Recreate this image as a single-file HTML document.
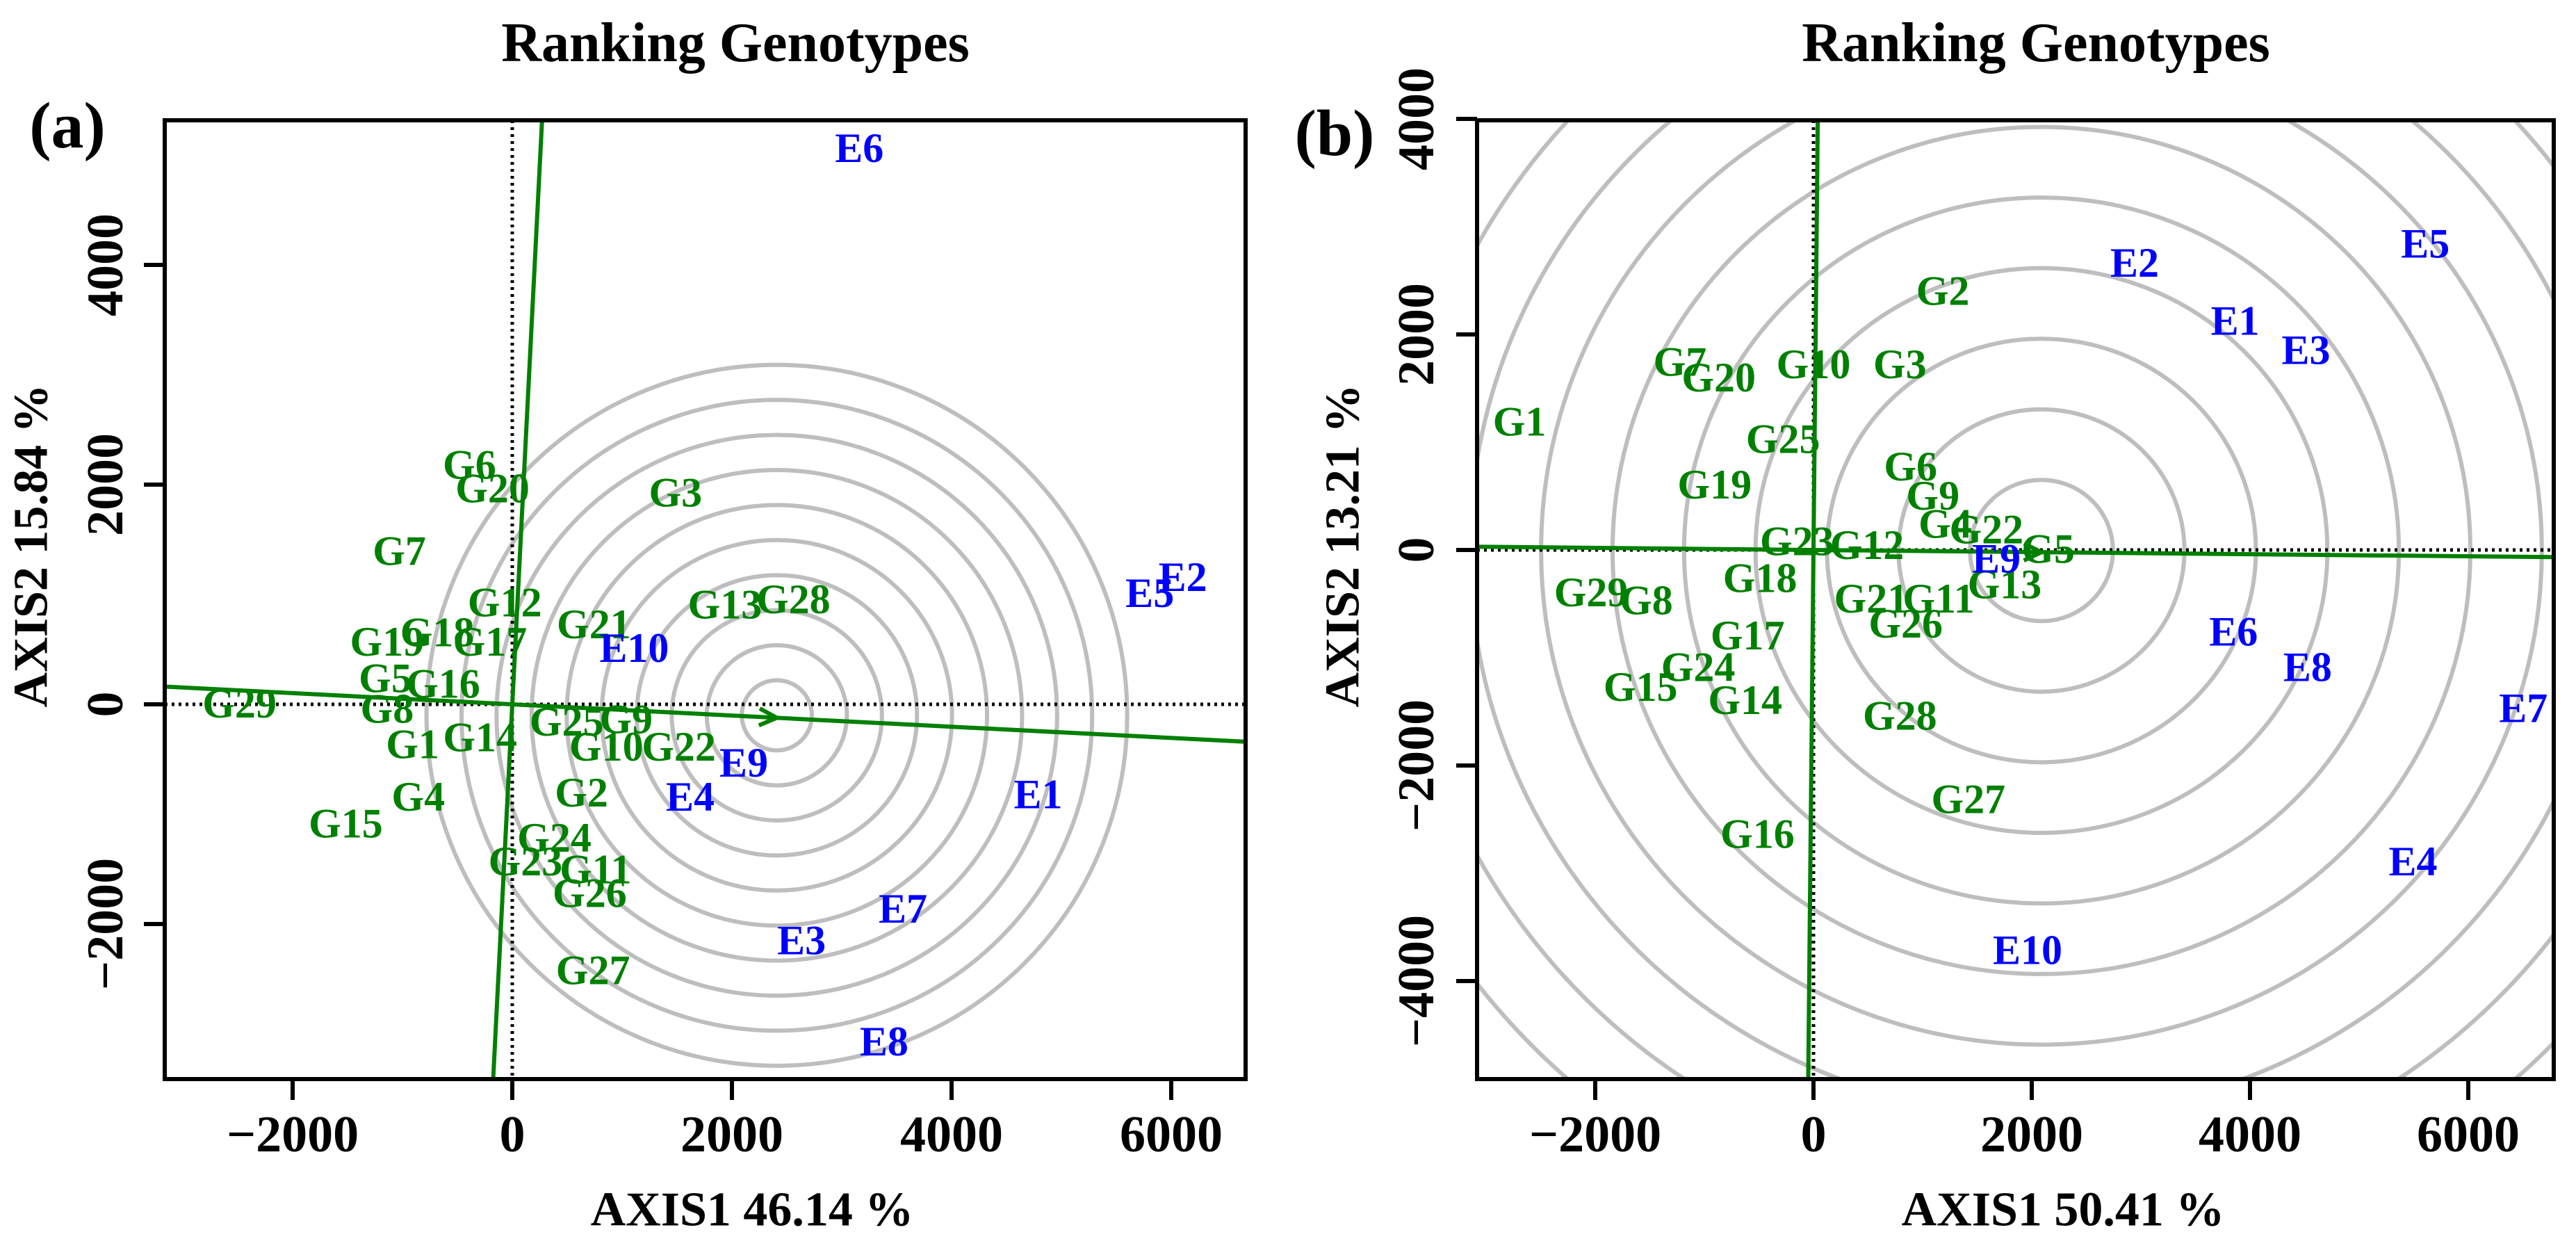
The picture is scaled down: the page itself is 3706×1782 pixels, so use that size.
<!DOCTYPE html>
<html><head><meta charset="utf-8"><style>
html,body{margin:0;padding:0;background:#fff;width:3706px;height:1782px;overflow:hidden}
svg{display:block}
text{font-family:"Liberation Serif",serif;font-weight:bold}
</style></head><body>
<svg id="fig" width="3706" height="1782" viewBox="0 0 3706 1782" xmlns="http://www.w3.org/2000/svg">
<defs>
<clipPath id="clipA"><rect x="237" y="173" width="1555" height="1379"/></clipPath>
<clipPath id="clipB"><rect x="2125" y="173" width="1549" height="1379"/></clipPath>
</defs>
<g id="panelA"></g>
<g id="panelB"></g>
</svg>
<script>
// ---- Panel (a) data ----
const genoNamesA = ["G6","G20","G3","G7","G12","G13","G28","G21","G18","G19","G17","G5","G16","G29","G8","G25","G9","G1","G14","G10","G22","G2","G4","G15","G24","G23","G11","G26","G27"];
const genoXA = [-390,-180,1486,-1028,-68,1936,2559,743,-683,-1140,-203,-1155,-630,-2484,-1140,495,1036,-908,-293,856,1516,630,-856,-1516,383,120,758,705,735];
const genoYA = [2186,1970,1934,1402,935,913,963,733,661,575,575,244,194,14,-36,-151,-129,-359,-295,-381,-381,-798,-834,-1079,-1208,-1424,-1496,-1711,-2416];
const envNamesA = ["E6","E2","E5","E10","E9","E4","E1","E7","E3","E8"];
const envXA = [3160,6105,5805,1110,2108,1620,4788,3557,2634,3385];
const envYA = [5070,1165,1020,518,-525,-834,-812,-1855,-2143,-3063];
const idealA = [2409,-100];
const ringStepA = 319;
const ringCountA = 10;
const aecSlopeA = -0.051;
const xTicksA = [-2000,0,2000,4000,6000];
const yTicksA = [-2000,0,2000,4000];
// ---- Panel (b) data ----
const genoNamesB = ["G2","G7","G20","G10","G3","G1","G25","G6","G19","G9","G4","G22","G5","G23","G12","G18","G29","G8","G21","G11","G13","G26","G17","G24","G15","G14","G28","G27","G16"];
const genoXB = [1185,-1223,-868,0,792,-2694,-279,890,-906,1094,1207,1585,2151,-151,490,-490,-2038,-1532,528,1147,1751,845,-604,-1057,-1585,-626,792,1419,-513];
const genoYB = [2409,1752,1606,1730,1730,1197,1037,781,613,511,248,197,15,88,51,-256,-387,-460,-445,-445,-314,-679,-788,-1080,-1263,-1387,-1533,-2307,-2628];
const envNamesB = ["E5","E2","E1","E3","E6","E8","E7","E4","E10","E9"];
const envXB = [5607,2943,3864,4513,3849,4528,6505,5494,1962,1675];
const envYB = [2847,2672,2132,1862,-752,-1080,-1460,-2884,-3708,-73];
const idealB = [2089,-5];
const ringStepB = 655;
const ringCountB = 15;
const aecSlopeB = -0.0098;
const xTicksB = [-2000,0,2000,4000,6000];
const yTicksB = [-4000,-2000,0,2000,4000];

const NS = "http://www.w3.org/2000/svg";
function mk(parent, tag, attrs, txt){
  const e = document.createElementNS(NS, tag);
  for (const k in attrs) e.setAttribute(k, attrs[k]);
  if (txt !== undefined) e.textContent = txt;
  parent.appendChild(e);
  return e;
}

function panel(gid, cfg){
  const g = document.getElementById(gid);
  const X = v => cfg.x0 + v*cfg.kx;
  const Y = v => cfg.y0 - v*cfg.ky;
  const {L,R,T,B} = cfg;
  const inner = mk(g,"g",{"clip-path":"url(#"+cfg.clip+")"});
  
  
  for (let i=1;i<=cfg.ringCount;i++){
    const r = i*cfg.ringStep;
    const c = mk(inner,"ellipse",{cx:X(cfg.ideal[0]),cy:Y(cfg.ideal[1]),rx:r*cfg.kx,ry:r*cfg.ky,fill:"none",stroke:"#bebebe","stroke-width":6});
    
    
  }
  let d1 = mk(inner,"line",{x1:L,x2:R,y1:Y(0),y2:Y(0),stroke:"#000","stroke-width":5,"stroke-dasharray":"4 6"});
  
  
  let d2 = mk(inner,"line",{x1:X(0),x2:X(0),y1:T,y2:B,stroke:"#000","stroke-width":5,"stroke-dasharray":"4 6"});
  
  
  const s = cfg.slope;
  const xa = cfg.xmin, xb = cfg.xmax;
  let a1 = mk(inner,"line",{x1:X(xa),y1:Y(s*xa),x2:X(xb),y2:Y(s*xb),stroke:"#008000","stroke-width":6});
  
  
  const ya = cfg.ymin, yb = cfg.ymax;
  let a2 = mk(inner,"line",{x1:X(-s*ya),y1:Y(ya),x2:X(-s*yb),y2:Y(yb),stroke:"#008000","stroke-width":6});
  
  
  const ax = cfg.ideal[0], ay = s*cfg.ideal[0];
  const px = X(ax), py = Y(ay);
  const ang = Math.atan2(Y(ay)-Y(0), X(ax)-X(0));
  const hl = 28;
  const arr = mk(inner,"path",{d:`M${px-hl*Math.cos(ang-0.45)},${py-hl*Math.sin(ang-0.45)} L${px},${py} L${px-hl*Math.cos(ang+0.45)},${py-hl*Math.sin(ang+0.45)}`,fill:"none",stroke:"#008000","stroke-width":6});
  
  
  cfg.gn.forEach((n,i)=>{
    const t = mk(inner,"text",{x:X(cfg.gx[i]),y:Y(cfg.gy[i]),dy:"0.35em","text-anchor":"middle","font-size":60,fill:"#008000"},n);
    
    
  });
  cfg.en.forEach((n,i)=>{
    const t = mk(inner,"text",{x:X(cfg.ex[i]),y:Y(cfg.ey[i]),dy:"0.35em","text-anchor":"middle","font-size":60,fill:"#0000ff"},n);
    
    
  });
  const box = mk(g,"rect",{x:L,y:T,width:R-L,height:B-T,fill:"none",stroke:"#000","stroke-width":6});
  
  
  cfg.xt.forEach(v=>{
    const tk = mk(g,"line",{x1:X(v),x2:X(v),y1:B,y2:B+30,stroke:"#000","stroke-width":6});
    
    
    const lab = (v<0?"\u2212":"")+Math.abs(v);
    const t = mk(g,"text",{x:X(v),y:1630,dy:"0.35em","text-anchor":"middle","font-size":74,fill:"#000"},lab);
    
    
  });
  cfg.yt.forEach(v=>{
    const tk = mk(g,"line",{x1:L-30,x2:L,y1:Y(v),y2:Y(v),stroke:"#000","stroke-width":6});
    
    
    const lab = (v<0?"\u2212":"")+Math.abs(v);
    const t = mk(g,"text",{x:cfg.ytx,y:Y(v),dy:"0.35em","text-anchor":"middle","font-size":74,fill:"#000",transform:`rotate(-90 ${cfg.ytx} ${Y(v)})`},lab);
    
    
  });
  let tt = mk(g,"text",{x:cfg.tx,y:60,dy:"0.35em","text-anchor":"middle","font-size":80,fill:"#000"},"Ranking Genotypes");
  
  
  let xl = mk(g,"text",{x:cfg.xlx,y:1738,dy:"0.35em","text-anchor":"middle","font-size":70,fill:"#000"},cfg.xlab);
  
  
  let yl = mk(g,"text",{x:cfg.ylx,y:785,dy:"0.35em","text-anchor":"middle","font-size":70,fill:"#000",transform:`rotate(-90 ${cfg.ylx} 785)`},cfg.ylab);
  
  
  let pl = mk(g,"text",{x:cfg.plx,y:cfg.ply,dy:"0.35em","text-anchor":"middle","font-size":94,fill:"#000"},cfg.plab);
  
  
}

panel("panelA",{p:"panel-a",clip:"clipA",L:237,R:1792,T:173,B:1552,x0:737,y0:1013,kx:0.158,ky:0.158,
  xmin:-3300,xmax:6800,ymin:-3600,ymax:5500,slope:aecSlopeA,ideal:idealA,ringStep:ringStepA,ringCount:ringCountA,
  gn:genoNamesA,gx:genoXA,gy:genoYA,en:envNamesA,ex:envXA,ey:envYA,xt:xTicksA,yt:yTicksA,
  ytx:150,tx:1058,xlx:1082,ylx:43,xlab:"AXIS1 46.14 %",ylab:"AXIS2 15.84 %",plx:97,ply:179,plab:"(a)"});
panel("panelB",{p:"panel-b",clip:"clipB",L:2125,R:3674,T:173,B:1552,x0:2609,y0:791,kx:0.157,ky:0.155,
  xmin:-3200,xmax:6900,ymin:-5000,ymax:4100,slope:aecSlopeB,ideal:idealB,ringStep:ringStepB,ringCount:ringCountB,
  gn:genoNamesB,gx:genoXB,gy:genoYB,en:envNamesB,ex:envXB,ey:envYB,xt:xTicksB,yt:yTicksB,
  ytx:2036,tx:2929,xlx:2968,ylx:1930,xlab:"AXIS1 50.41 %",ylab:"AXIS2 13.21 %",plx:1920,ply:190,plab:"(b)"});
</script>
</body></html>
